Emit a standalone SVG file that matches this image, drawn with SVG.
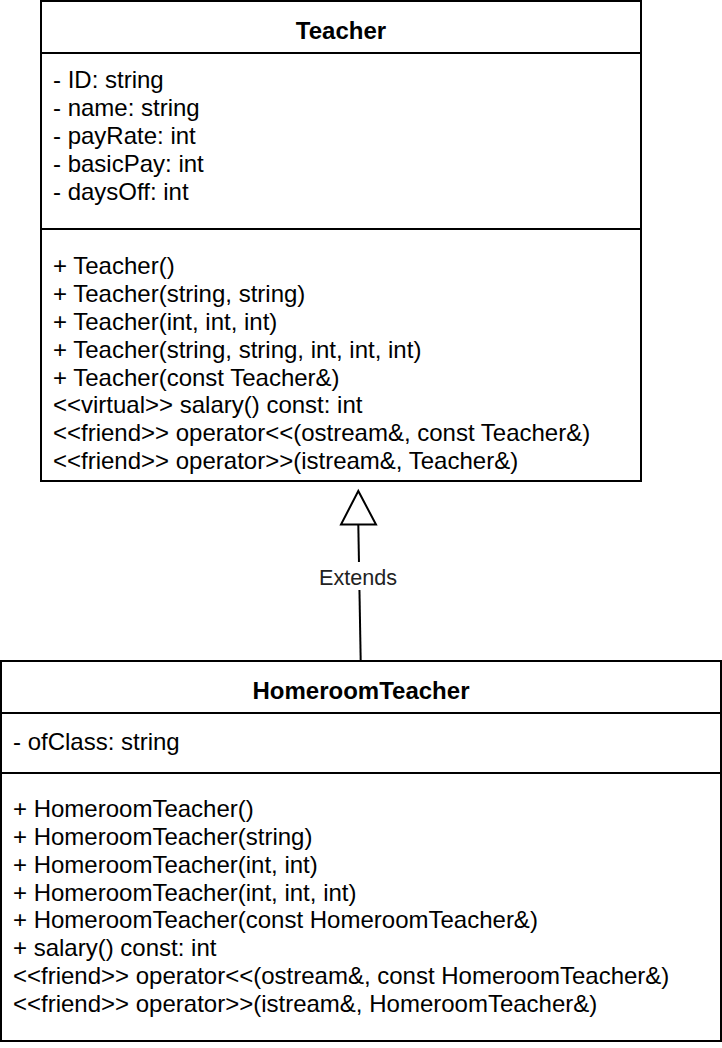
<svg xmlns="http://www.w3.org/2000/svg" width="722" height="1048" viewBox="0 0 722 1048">
<style>
.box{fill:#fff;stroke:#000;stroke-width:2}
.ln{stroke:#000;stroke-width:2;fill:none}
.t{font-family:"Liberation Sans",Arial,sans-serif;font-size:24px;fill:#000}
.h{font-family:"Liberation Sans",Arial,sans-serif;font-size:24px;font-weight:bold;fill:#000;text-anchor:middle}
.lbl{font-family:"Liberation Sans",Arial,sans-serif;font-size:21.6px;fill:#222;text-anchor:middle}
</style>
<rect width="722" height="1048" fill="#fff"/>
<g id="connectors">
<path class="ln" d="M358.3,524 L360.7,661"/>
<polygon points="358.3,491 341,524.5 376,524.5" fill="#fff" stroke="#000" stroke-width="2"/>
<rect x="314" y="562" width="88" height="28" fill="#fff"/>
<text class="lbl" x="358" y="584.5">Extends</text>
</g>
<g id="teacher">
<rect class="box" x="41" y="1" width="600" height="480"/>
<line class="ln" x1="41" y1="53" x2="641" y2="53"/>
<line class="ln" x1="41" y1="229" x2="641" y2="229"/>
<text class="h" x="341" y="38.5">Teacher</text>
<text class="t" x="53" y="88">- ID: string</text>
<text class="t" x="53" y="116">- name: string</text>
<text class="t" x="53" y="143.5">- payRate: int</text>
<text class="t" x="53" y="171.5">- basicPay: int</text>
<text class="t" x="53" y="199.5">- daysOff: int</text>
<text class="t" x="53" y="274">+ Teacher()</text>
<text class="t" x="53" y="302">+ Teacher(string, string)</text>
<text class="t" x="53" y="330">+ Teacher(int, int, int)</text>
<text class="t" x="53" y="357.5">+ Teacher(string, string, int, int, int)</text>
<text class="t" x="53" y="385.5">+ Teacher(const Teacher&amp;)</text>
<text class="t" x="53" y="413">&lt;&lt;virtual&gt;&gt; salary() const: int</text>
<text class="t" x="53" y="441">&lt;&lt;friend&gt;&gt; operator&lt;&lt;(ostream&amp;, const Teacher&amp;)</text>
<text class="t" x="53" y="469">&lt;&lt;friend&gt;&gt; operator&gt;&gt;(istream&amp;, Teacher&amp;)</text>
</g>
<g id="homeroomteacher">
<rect class="box" x="1" y="661" width="720" height="380"/>
<line class="ln" x1="1" y1="713" x2="721" y2="713"/>
<line class="ln" x1="1" y1="773" x2="721" y2="773"/>
<text class="h" x="361" y="698.5">HomeroomTeacher</text>
<text class="t" x="13" y="750">- ofClass: string</text>
<text class="t" x="13" y="817">+ HomeroomTeacher()</text>
<text class="t" x="13" y="845">+ HomeroomTeacher(string)</text>
<text class="t" x="13" y="872.5">+ HomeroomTeacher(int, int)</text>
<text class="t" x="13" y="900.5">+ HomeroomTeacher(int, int, int)</text>
<text class="t" x="13" y="928">+ HomeroomTeacher(const HomeroomTeacher&amp;)</text>
<text class="t" x="13" y="956">+ salary() const: int</text>
<text class="t" x="13" y="984">&lt;&lt;friend&gt;&gt; operator&lt;&lt;(ostream&amp;, const HomeroomTeacher&amp;)</text>
<text class="t" x="13" y="1012">&lt;&lt;friend&gt;&gt; operator&gt;&gt;(istream&amp;, HomeroomTeacher&amp;)</text>
</g>
</svg>
